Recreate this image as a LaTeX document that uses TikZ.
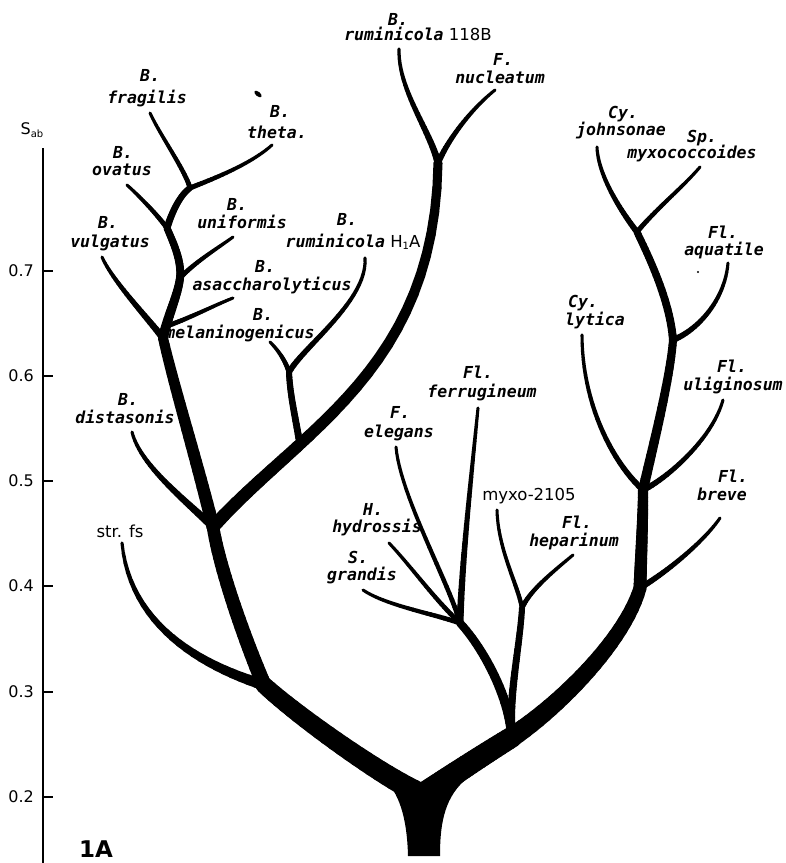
\documentclass[tikz,border=0pt]{standalone}
\usepackage{fontspec}
\setmainfont{DejaVu Sans}
\newfontfamily\leroy{DejaVu Sans Mono}

% A tapered branch: a cubic curve from #1 to #4 with controls #2, #3,
% drawn as short round-capped pieces whose width goes from #5 to #6 (pt).
\newcommand\limbsteps{24}
\newcommand\limb[6]{%
  \coordinate (lbA) at #2;
  \coordinate (lbB) at #3;
  \pgfmathsetmacro\lbw{#5}%
  \pgfmathsetmacro\lbv{#6}%
  \foreach \k in {1,...,\limbsteps}{%
    \pgfmathsetmacro\ta{(\k-1)/\limbsteps}%
    \pgfmathsetmacro\tb{\k/\limbsteps}%
    \pgfmathsetmacro\lw{\lbw+(\lbv-\lbw)*(\k-0.5)/\limbsteps}%
    \pgfsetlinewidth{\lw pt}%
    \pgfsetroundcap
    \pgfpathmoveto{\pgfpointcurveattime{\ta}{\pgfpointanchor{#1}{center}}{\pgfpointanchor{lbA}{center}}{\pgfpointanchor{lbB}{center}}{\pgfpointanchor{#4}{center}}}%
    \pgfpathlineto{\pgfpointcurveattime{\tb}{\pgfpointanchor{#1}{center}}{\pgfpointanchor{lbA}{center}}{\pgfpointanchor{lbB}{center}}{\pgfpointanchor{#4}{center}}}%
    \pgfusepath{stroke}%
  }}

\tikzset{
  taxon/.style={font=\leroy\bfseries\itshape\fontsize{16.5}{20}\selectfont, inner sep=0pt, anchor=base},
  plain/.style={font=\fontsize{16.5}{20}\selectfont, inner sep=0pt, anchor=base},
  axlab/.style={font=\fontsize{16}{19}\selectfont, inner sep=0pt, anchor=east},
  axline/.style={line width=1.8pt},
  tick/.style={line width=1.6pt},
}

\begin{document}
\begin{tikzpicture}[x=1pt,y=-1pt]
\useasboundingbox (0,0) rectangle (786,863);

% ---------- similarity scale ----------
\coordinate (axtop) at (43,148);
\coordinate (axbot) at (43,863);
\draw[axline] (axtop) -- (axbot);
\node[font=\fontsize{16}{19}\selectfont, inner sep=0pt] (sab) at (32,130)
  {S\raisebox{-3pt}{\fontsize{10}{10}\selectfont ab}};
\foreach \v/\yy [count=\i] in {0.7/271,0.6/376,0.5/481,0.4/586,0.3/692,0.2/797}{
  \coordinate (tk\i) at (43,\yy);
  \draw[tick] (tk\i) -- ++(10,0);
  \node[axlab] (ax\i) at (34,\yy) {\v};
}
\node[font=\bfseries\fontsize{23}{26}\selectfont, inner sep=0pt, anchor=base] (fig) at (96,857) {1A};

% ---------- junctions ----------
\coordinate (F0) at (423,795);
\coordinate (L1) at (264,685);
\coordinate (L2) at (213,527);
\coordinate (L3) at (163,338);
\coordinate (A0) at (167,326);
\coordinate (U0) at (180,278);
\coordinate (O0) at (167,228);
\coordinate (FT) at (190,188);
\coordinate (H0) at (300,445);
\coordinate (H1) at (289,372);
\coordinate (T1) at (438,163);
\coordinate (M1) at (512,737);
\coordinate (G0) at (460,623);
\coordinate (X0) at (522,608);
\coordinate (R1) at (640,588);
\coordinate (R2) at (643,490);
\coordinate (R3) at (673,340);
\coordinate (R4) at (637,232);

% ---------- branch tips ----------
\coordinate (lf-strfs) at (122,543);
\coordinate (lf-dist) at (132,432);
\coordinate (lf-vulg) at (102,257);
\coordinate (lf-asac) at (233,298);
\coordinate (lf-unif) at (233,237);
\coordinate (lf-ovat) at (127,185);
\coordinate (lf-frag) at (150,113);
\coordinate (lf-theta) at (272,145);
\coordinate (lf-mel) at (270,342);
\coordinate (lf-h1a) at (365,258);
\coordinate (lf-118) at (399,49);
\coordinate (lf-nuc) at (495,90);
\coordinate (lf-fer) at (478,408);
\coordinate (lf-eleg) at (396,447);
\coordinate (lf-hyd) at (389,543);
\coordinate (lf-gra) at (363,590);
\coordinate (lf-myxo) at (497,510);
\coordinate (lf-hep) at (573,555);
\coordinate (lf-brv) at (720,518);
\coordinate (lf-lyt) at (582,335);
\coordinate (lf-uli) at (723,400);
\coordinate (lf-aqua) at (728,263);
\coordinate (lf-john) at (597,147);
\coordinate (lf-myxc) at (700,167);

% ---------- trunk, flaring into the two main limbs ----------
\fill (408,856) -- (440,856) .. controls (440,828) and (443,800) .. (464,781)
  -- (458,770) -- (423,797) -- (388,768) -- (384,779)
  .. controls (398,792) and (407,815) .. (408,856) -- cycle;

% ---------- branches ----------
\limb{F0}{(385,778)}{(300,718)}{L1}{22}{17}
\limb{F0}{(445,780)}{(478,758)}{M1}{24}{21}
\limb{L1}{(200,665)}{(130,625)}{lf-strfs}{11}{3}
\limb{L1}{(245,640)}{(220,570)}{L2}{15}{12.5}
\limb{L2}{(185,500)}{(140,465)}{lf-dist}{8}{3}
\limb{L2}{(198,465)}{(175,390)}{L3}{13}{10}
\limb{L2}{(300,430)}{(435,370)}{T1}{13}{9}
\limb{H0}{(295,415)}{(290,395)}{H1}{7}{6}
\limb{H1}{(285,360)}{(278,350)}{lf-mel}{5}{3}
\limb{H1}{(305,345)}{(368,300)}{lf-h1a}{6}{3}
\limb{T1}{(430,130)}{(398,90)}{lf-118}{7}{3}
\limb{T1}{(448,140)}{(470,110)}{lf-nuc}{6}{3}
\limb{L3}{(145,315)}{(112,280)}{lf-vulg}{7}{3}
\limb{L3}{(168,315)}{(178,295)}{U0}{10}{8}
\limb{A0}{(190,318)}{(215,305)}{lf-asac}{5}{3}
\limb{U0}{(195,262)}{(218,248)}{lf-unif}{5}{3}
\limb{U0}{(182,260)}{(172,240)}{O0}{8}{7}
\limb{O0}{(155,212)}{(138,195)}{lf-ovat}{5}{3}
\limb{O0}{(172,212)}{(180,195)}{FT}{7}{6}
\limb{FT}{(185,170)}{(160,135)}{lf-frag}{5}{3}
\limb{FT}{(210,180)}{(250,165)}{lf-theta}{5}{3}
\limb{M1}{(510,700)}{(485,650)}{G0}{10}{8}
\limb{G0}{(462,560)}{(472,470)}{lf-fer}{7}{3}
\limb{G0}{(450,585)}{(400,495)}{lf-eleg}{5}{3}
\limb{G0}{(435,600)}{(410,565)}{lf-hyd}{5}{3}
\limb{G0}{(430,613)}{(385,605)}{lf-gra}{5}{3}
\limb{M1}{(508,700)}{(520,645)}{X0}{8}{6}
\limb{X0}{(518,585)}{(498,550)}{lf-myxo}{4.5}{3}
\limb{X0}{(530,590)}{(555,570)}{lf-hep}{5}{3}
\limb{M1}{(560,705)}{(625,640)}{R1}{20}{13}
\limb{R1}{(670,570)}{(705,540)}{lf-brv}{6}{3}
\limb{R1}{(641,555)}{(643,520)}{R2}{13}{10}
\limb{R2}{(610,460)}{(582,400)}{lf-lyt}{6}{3}
\limb{R2}{(665,480)}{(712,440)}{lf-uli}{6}{3}
\limb{R2}{(652,450)}{(670,380)}{R3}{10}{8}
\limb{R3}{(698,330)}{(725,300)}{lf-aqua}{6}{3}
\limb{R3}{(670,300)}{(648,255)}{R4}{8}{7}
\limb{R4}{(620,210)}{(598,175)}{lf-john}{6}{3}
\limb{R4}{(655,210)}{(685,185)}{lf-myxc}{5}{3}

% specks on the plate
\fill[rotate around={-40:(258,94)}] (258,94) ellipse [x radius=4.5pt, y radius=2.2pt];
\fill (698,272) circle [radius=1.2pt];

% ---------- labels ----------
\node[taxon] (g-frag) at (150,81) {B.};
\node[taxon] (n-frag) at (147,103) {fragilis};
\node[taxon] (g-theta) at (280,117) {B.};
\node[taxon] (n-theta) at (277,138) {theta.};
\node[taxon] (g-ovat) at (123,158) {B.};
\node[taxon] (n-ovat) at (122,175) {ovatus};
\node[taxon] (g-unif) at (237,210) {B.};
\node[taxon] (n-unif) at (242,228) {uniformis};
\node[taxon] (g-vulg) at (108,228) {B.};
\node[taxon] (n-vulg) at (110,247) {vulgatus};
\node[taxon] (g-asac) at (265,272) {B.};
\node[taxon] (n-asac) at (272,290) {asaccharolyticus};
\node[taxon] (g-mel) at (263,320) {B.};
\node[taxon] (n-mel) at (240,338) {melaninogenicus};
\node[taxon] (g-h1a) at (347,225) {B.};
\node[plain] (n-h1a) at (353,247) {{\leroy\bfseries\itshape ruminicola} H\raisebox{-2.5pt}{\fontsize{10}{10}\selectfont 1}A};
\node[taxon] (g-118) at (398,25) {B.};
\node[plain] (n-118) at (418,40) {{\leroy\bfseries\itshape ruminicola} 118B};
\node[taxon] (g-nuc) at (503,65) {F.};
\node[taxon] (n-nuc) at (500,83) {nucleatum};
\node[taxon] (g-john) at (623,118) {Cy.};
\node[taxon] (n-john) at (621,135) {johnsonae};
\node[taxon] (g-myxc) at (702,142) {Sp.};
\node[taxon] (n-myxc) at (692,158) {myxococcoides};
\node[taxon] (g-aqua) at (723,238) {Fl.};
\node[taxon] (n-aqua) at (724,255) {aquatile};
\node[taxon] (g-lyt) at (583,307) {Cy.};
\node[taxon] (n-lyt) at (595,325) {lytica};
\node[taxon] (g-uli) at (732,372) {Fl.};
\node[taxon] (n-uli) at (733,390) {uliginosum};
\node[taxon] (g-brv) at (733,482) {Fl.};
\node[taxon] (n-brv) at (722,500) {breve};
\node[taxon] (g-fer) at (478,378) {Fl.};
\node[taxon] (n-fer) at (482,397) {ferrugineum};
\node[taxon] (g-eleg) at (400,418) {F.};
\node[taxon] (n-eleg) at (399,437) {elegans};
\node[plain] (n-myxo) at (529,500) {myxo-2105};
\node[taxon] (g-hep) at (577,528) {Fl.};
\node[taxon] (n-hep) at (574,546) {heparinum};
\node[taxon] (g-hyd) at (373,515) {H.};
\node[taxon] (n-hyd) at (377,532) {hydrossis};
\node[taxon] (g-gra) at (358,563) {S.};
\node[taxon] (n-gra) at (362,580) {grandis};
\node[taxon] (g-dist) at (128,405) {B.};
\node[taxon] (n-dist) at (125,423) {distasonis};
\node[plain] (n-strfs) at (120,537) {str. fs};
\end{tikzpicture}
\end{document}
